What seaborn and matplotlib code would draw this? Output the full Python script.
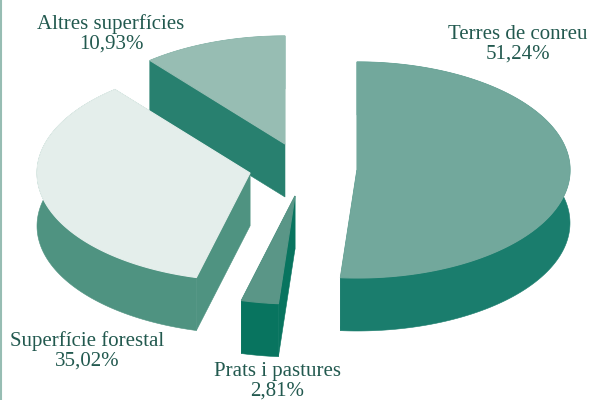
import numpy as np
import matplotlib.pyplot as plt
import seaborn as sns

labels = ["Terres de conreu", "Prats i pastures", "Superfície forestal", "Altres superfícies"]
values = [51.24, 2.81, 35.02, 10.93]
top_colors = ["#72a89c", "#5a9687", "#e4eeeb", "#97bdb3"]
wall_colors = ["#1a7d6d", "#08745f", "#4f9381", "#28806f"]

# slice apex in pixels, the exploded look
apex = [(357, 170), (295, 196), (250, 173), (285, 144)]
label_pos = [(518, 44), (277, 381), (87, 351), (111, 34)]
draw_order = [3, 2, 1, 0]

RX, RY, DEPTH = 213, 108, 53

sns.set_theme(style="white")
plt.rcParams["font.family"] = ["Liberation Serif", "DejaVu Serif"]

fig, ax = plt.subplots(figsize=(5.9, 4.0), dpi=100)
fig.subplots_adjust(0, 0, 1, 1)
ax.set_xlim(0, 590)
ax.set_ylim(400, 0)
ax.axis("off")

edges = np.concatenate([[0], np.cumsum(values)]) / sum(values) * 2 * np.pi


def rim(i):
    t = np.linspace(edges[i], edges[i + 1], 200)
    return apex[i][0] + RX * np.sin(t), apex[i][1] - RY * np.cos(t)


for i in draw_order:
    x, y = rim(i)
    cx, cy = apex[i]
    col = wall_colors[i]
    # cut faces, the ones at 12 o'clock have no width
    for ex, ey in [(x[0], y[0]), (x[-1], y[-1])]:
        if abs(ex - cx) > 1:
            ax.fill([cx, ex, ex, cx], [cy, ey, ey + DEPTH, cy + DEPTH], color=col, lw=0.4)
    # outer wall
    ax.fill(np.r_[x, x[::-1]], np.r_[y, y[::-1] + DEPTH], color=col, lw=0.4)
    ax.fill(np.r_[cx, x], np.r_[cy, y], color=top_colors[i], lw=0.8)

for i, name in enumerate(labels):
    pct = f"{values[i]:.2f}".replace(".", ",") + "%"
    ax.text(label_pos[i][0], label_pos[i][1], f"{name}\n{pct}", ha="center", va="center",
            fontsize=15, color="#22594f", linespacing=1.05)

# thin strip down the left side of the scan
ax.axvline(0.5, color="#97bdb3", lw=1.5)

fig.savefig("out.png", dpi=100)
